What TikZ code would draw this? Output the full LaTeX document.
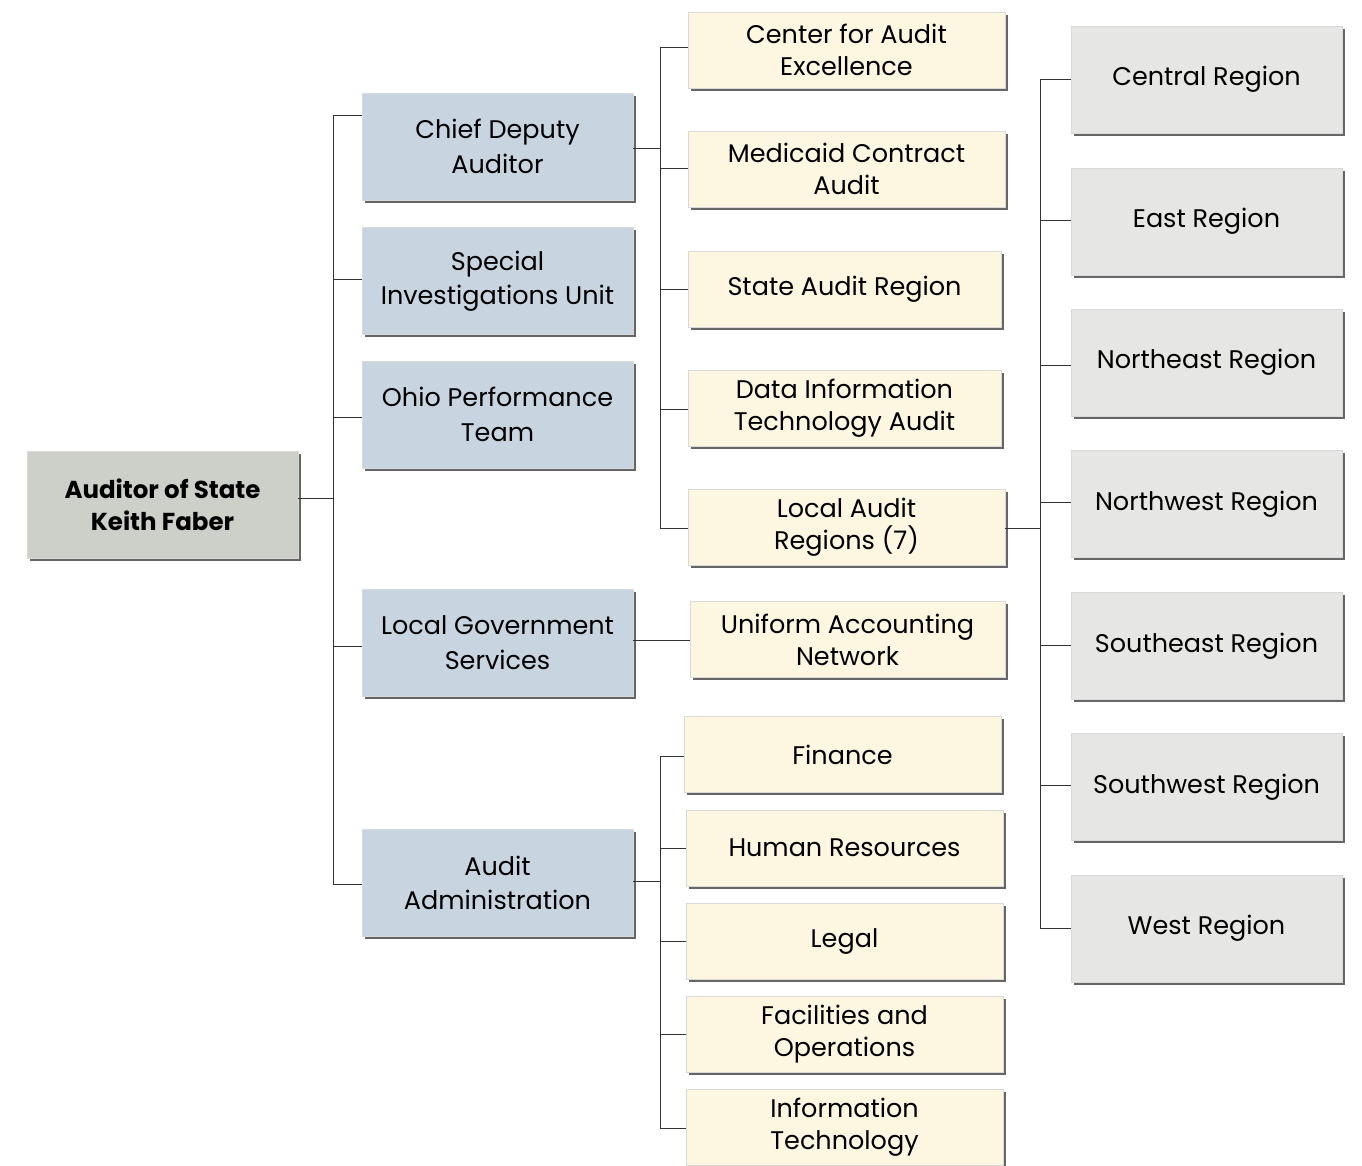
\documentclass[tikz,border=0pt]{standalone}
\usepackage{fontspec}
\setmainfont{Poppins}
\usetikzlibrary{shadows}
\definecolor{rootfill}{HTML}{CDD0C9}
\definecolor{bluefill}{HTML}{C8D5E1}
\definecolor{yelfill}{HTML}{FDF6E0}
\definecolor{greyfill}{HTML}{E6E6E4}
\definecolor{linecol}{HTML}{333333}
\begin{document}
\begin{tikzpicture}[x=1pt,y=-1pt,
  box/.style={draw=black!15, line width=0.4pt, align=center, inner sep=2pt,
    drop shadow={shadow xshift=2.5pt, shadow yshift=-2.5pt, fill=black!75, opacity=0.8},
    font=\fontsize{25.5}{34.5}\selectfont},
  rootbox/.style={box, fill=rootfill, font=\bfseries\fontsize{24.5}{32}\selectfont, minimum width=271pt, minimum height=107pt},
  bluebox/.style={box, fill=bluefill, minimum width=271pt, minimum height=107pt},
  yelbox/.style={box, fill=yelfill, font=\fontsize{25.5}{32}\selectfont, minimum width=317pt, minimum height=76pt},
  greybox/.style={box, fill=greyfill, minimum width=271pt, minimum height=107pt},
  conn/.style={draw=linecol, line width=0.9pt}]
\useasboundingbox[fill=white] (0,0) rectangle (1362,1165);

\node[rootbox] (root) at (162.5,504.5) {Auditor of State\\Keith Faber};

\node[bluebox] (cd) at (497.5,146.5) {Chief Deputy\\Auditor};
\node[bluebox] (siu) at (497.5,281) {Special\\Investigations Unit};
\node[bluebox] (opt) at (497.5,414.5) {Ohio Performance\\Team};
\node[bluebox] (lgs) at (497.5,642.5) {Local Government\\Services};
\node[bluebox] (aa) at (497.5,883) {Audit\\Administration};

\node[yelbox] (cae) at (846.5,50) {Center for Audit\\Excellence};
\node[yelbox] (mca) at (846.5,169) {Medicaid Contract\\Audit};
\node[yelbox, minimum width=313pt] (sar) at (844.5,289) {State Audit Region};
\node[yelbox, minimum width=313pt] (dita) at (844.5,408) {Data Information\\Technology Audit};
\node[yelbox] (lar) at (846.5,527.5) {Local Audit\\Regions (7)};
\node[yelbox, minimum width=315pt] (uan) at (847.5,639.5) {Uniform Accounting\\Network};
\node[yelbox] (fin) at (842.5,754.5) {Finance};
\node[yelbox] (hr) at (844.5,848) {Human Resources};
\node[yelbox] (leg) at (844.5,941) {Legal};
\node[yelbox] (fac) at (844.5,1034) {Facilities and\\Operations};
\node[yelbox] (it) at (844.5,1127) {Information\\Technology};

\node[greybox] (cen) at (1206.5,79.5) {Central Region};
\node[greybox] (east) at (1206.5,221.5) {East Region};
\node[greybox] (ne) at (1206.5,362.5) {Northeast Region};
\node[greybox] (nw) at (1206.5,504) {Northwest Region};
\node[greybox] (se) at (1206.5,646) {Southeast Region};
\node[greybox] (sw) at (1206.5,787) {Southwest Region};
\node[greybox] (west) at (1206.5,928.5) {West Region};

% root to level 1
\coordinate (b1) at (333,498);
\draw[conn] (root.east |- b1) -- (b1);
\draw[conn] (333,115) -- (333,884);
\draw[conn] (b1) |- (cd.west |- 0,115);
\draw[conn] (b1) |- (siu.west |- 0,279);
\draw[conn] (b1) |- (opt.west |- 0,417);
\draw[conn] (b1) |- (lgs.west |- 0,646);
\draw[conn] (b1) |- (aa.west |- 0,884);

% chief deputy to yellow
\coordinate (b2) at (660,148);
\draw[conn] (cd.east |- b2) -- (b2);
\draw[conn] (660,47) -- (660,528);
\draw[conn] (b2) |- (cae.west |- 0,47);
\draw[conn] (b2) |- (mca.west |- 0,168);
\draw[conn] (b2) |- (sar.west |- 0,289);
\draw[conn] (b2) |- (dita.west |- 0,409);
\draw[conn] (b2) |- (lar.west |- 0,528);

% local gov to UAN
\draw[conn] (lgs.east |- 0,640) -- (uan.west |- 0,640);

% audit admin to yellow
\coordinate (b3) at (660,881);
\draw[conn] (aa.east |- b3) -- (b3);
\draw[conn] (660,756) -- (660,1128);
\draw[conn] (b3) |- (fin.west |- 0,756);
\draw[conn] (b3) |- (hr.west |- 0,848);
\draw[conn] (b3) |- (leg.west |- 0,941);
\draw[conn] (b3) |- (fac.west |- 0,1034);
\draw[conn] (b3) |- (it.west |- 0,1128);

% local audit regions to regions
\coordinate (b4) at (1040,528);
\draw[conn] (lar.east |- b4) -- (b4);
\draw[conn] (1040,79) -- (1040,928);
\draw[conn] (b4) |- (cen.west |- 0,79);
\draw[conn] (b4) |- (east.west |- 0,220);
\draw[conn] (b4) |- (ne.west |- 0,365);
\draw[conn] (b4) |- (nw.west |- 0,502);
\draw[conn] (b4) |- (se.west |- 0,645);
\draw[conn] (b4) |- (sw.west |- 0,785);
\draw[conn] (b4) |- (west.west |- 0,928);
\end{tikzpicture}
\end{document}
